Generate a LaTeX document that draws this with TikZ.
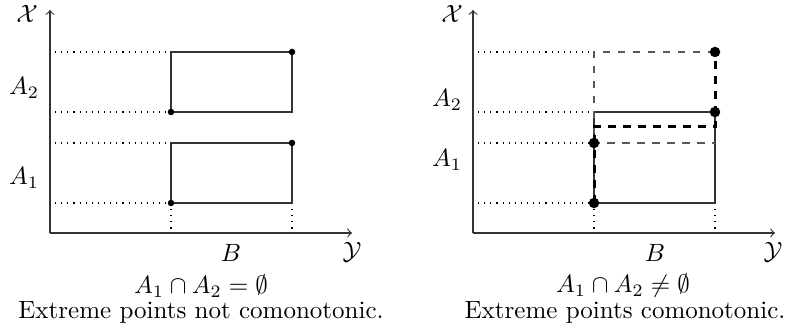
\documentclass[tikz,border=0pt]{standalone}
\usepackage{amsmath,amssymb}
\begin{document}
\begin{tikzpicture}[x=0.4pt,y=-0.4pt,
  axis/.style={->,line width=0.45pt,black!80},
  guide/.style={dotted,line width=0.45pt},
  box/.style={line width=0.45pt,black!80},
  gdash/.style={dashed,line width=0.45pt,black!65},
  kdash/.style={dashed,line width=1.2pt,black},
  sdot/.style={circle,fill=black,inner sep=0pt,minimum size=2.6pt},
  bdot/.style={circle,fill=black,inner sep=0pt,minimum size=4.2pt},
  lab/.style={inner sep=0pt}]
\useasboundingbox (0,0) rectangle (793,330);
% ---------- left panel ----------
\coordinate (LO) at (50,233);
\coordinate (LXt) at (50,10);
\coordinate (LYe) at (352,233);
\draw[axis] (LO) -- (LXt);
\draw[axis] (LO) -- (LYe);
\foreach \y/\n in {52/a,112/b,143/c,203/d}{
  \coordinate (Lg\n) at (55,\y);
  \coordinate (Lr\n) at (171,\y);
}
\draw[guide] (Lga) -- (Lra);
\draw[guide] (Lgb) -- (Lrb);
\draw[guide] (Lgc) -- (Lrc);
\draw[guide] (Lgd) -- (Lrd);
\coordinate (Lb1) at (171,233);
\coordinate (Lb2) at (292,233);
\coordinate (Lr2d) at (292,203);
\draw[guide] (Lrd) -- (Lb1);
\draw[guide] (Lr2d) -- (Lb2);
\draw[box] (171,52) rectangle (292,112);
\draw[box] (171,143) rectangle (292,203);
\node[sdot] (l1) at (171,112) {};
\node[sdot] (l2) at (292,52) {};
\node[sdot] (l3) at (171,203) {};
\node[sdot] (l4) at (292,143) {};
\node[lab] (LX) at (27,14) {$\mathcal{X}$};
\node[lab] (LA2) at (24,88) {$A_2$};
\node[lab] (LA1) at (24,178) {$A_1$};
\node[lab] (LB) at (231,253) {$B$};
\node[lab] (LY) at (352,252) {$\mathcal{Y}$};
\node[lab] (LC1) at (201,286) {$A_1\cap A_2=\emptyset$};
\node[lab] (LC2) at (201,312) {Extreme points not comonotonic.};
% ---------- right panel ----------
\coordinate (RO) at (473,233);
\coordinate (RXt) at (473,10);
\coordinate (RYe) at (775,233);
\draw[axis] (RO) -- (RXt);
\draw[axis] (RO) -- (RYe);
\foreach \y/\n in {52/a,112/b,143/c,203/d}{
  \coordinate (Rg\n) at (478,\y);
  \coordinate (Rr\n) at (594,\y);
}
\draw[guide] (Rga) -- (Rra);
\draw[guide] (Rgb) -- (Rrb);
\draw[guide] (Rgc) -- (Rrc);
\draw[guide] (Rgd) -- (Rrd);
\coordinate (Rb1) at (594,233);
\coordinate (Rb2) at (715,233);
\coordinate (Rr2d) at (715,203);
\draw[guide] (Rrd) -- (Rb1);
\draw[guide] (Rr2d) -- (Rb2);
% solid lower rectangle A1 x B
\draw[box] (594,112) rectangle (715,203);
% dashed upper rectangle A2 x B
\draw[gdash] (715,52) -- (594,52) -- (594,143) -- (715,143);
% thick dashed comonotone path
\draw[kdash] (594,203) -- (594,127) -- (715,127) -- (715,52);
\node[bdot] (r1) at (594,203) {};
\node[bdot] (r2) at (594,143) {};
\node[bdot] (r3) at (715,112) {};
\node[bdot] (r4) at (715,52) {};
\node[lab] (RX) at (452,14) {$\mathcal{X}$};
\node[lab] (RA2) at (447,100) {$A_2$};
\node[lab] (RA1) at (447,160) {$A_1$};
\node[lab] (RB) at (655,253) {$B$};
\node[lab] (RY) at (773,252) {$\mathcal{Y}$};
\node[lab] (RC1) at (623,286) {$A_1\cap A_2\neq\emptyset$};
\node[lab] (RC2) at (625,312) {Extreme points comonotonic.};
\end{tikzpicture}
\end{document}
